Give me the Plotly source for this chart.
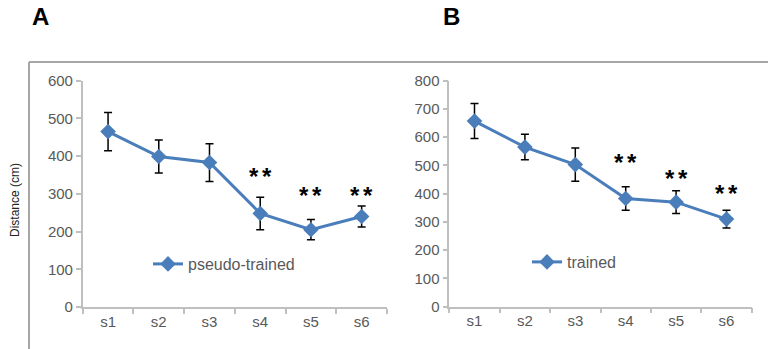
import plotly.graph_objects as go

sessions = ["s1", "s2", "s3", "s4", "s5", "s6"]

pseudo_mean = [465, 399, 383, 248, 205, 240]
pseudo_err = [51, 44, 50, 43, 27, 28]
pseudo_star_y = [None, None, None, 362, 312, 312]

trained_mean = [657, 565, 503, 383, 370, 310]
trained_err = [62, 45, 59, 42, 40, 31]
trained_star_y = [None, None, None, 530, 474, 422]

W, H = 768, 349
BLUE = "#4a7ebb"
AXC = "#bfbfbf"
TXT = "#595959"
FONT = "Liberation Sans"

def px(x):
    return x / W

def py(y):
    return 1 - y / H

fig = go.Figure()

fig.add_trace(go.Scatter(
    x=sessions, y=pseudo_mean, mode="lines+markers", name="pseudo-trained",
    line=dict(color=BLUE, width=3),
    marker=dict(symbol="diamond", size=12, color=BLUE),
    error_y=dict(type="data", array=pseudo_err, color="#000000", thickness=1.5, width=4),
    xaxis="x", yaxis="y", legend="legend",
))
fig.add_trace(go.Scatter(
    x=sessions, y=trained_mean, mode="lines+markers", name="trained",
    line=dict(color=BLUE, width=3),
    marker=dict(symbol="diamond", size=12, color=BLUE),
    error_y=dict(type="data", array=trained_err, color="#000000", thickness=1.5, width=4),
    xaxis="x2", yaxis="y2", legend="legend2",
))

for s, ys, xa, ya in [(sessions, pseudo_star_y, "x", "y"), (sessions, trained_star_y, "x2", "y2")]:
    for cat, v in zip(s, ys):
        if v is None:
            continue
        for dx in (-6.5, 6.5):
            fig.add_annotation(x=cat, y=v, xref=xa, yref=ya, text="<b>*</b>", showarrow=False,
                               xanchor="center", yanchor="middle", xshift=dx, yshift=-6,
                               font=dict(family=FONT, size=24, color="#000000"))

axis_common = dict(
    showgrid=False, zeroline=False, showline=True, linecolor=AXC, linewidth=1.5,
    ticks="outside", ticklen=5, tickcolor=AXC, tickwidth=1.5, automargin=False,
    tickfont=dict(family=FONT, size=15, color=TXT), fixedrange=True,
)

fig.update_layout(
    width=W, height=H, margin=dict(l=0, r=0, t=0, b=0, pad=0, autoexpand=False),
    paper_bgcolor="white", plot_bgcolor="white",
    xaxis=dict(domain=[px(82.7), px(387)], anchor="y", type="category",
               range=[-0.5, 5.5], tickson="boundaries", **axis_common),
    yaxis=dict(domain=[py(307), py(80.7)], anchor="x", range=[0, 600], dtick=100, **axis_common),
    xaxis2=dict(domain=[px(449.3), px(751.7)], anchor="y2", type="category",
                range=[-0.5, 5.5], tickson="boundaries", **axis_common),
    yaxis2=dict(domain=[py(306.7), py(80.7)], anchor="x2", range=[0, 800], dtick=100, **axis_common),
    legend=dict(x=px(148), y=py(264), xanchor="left", yanchor="middle",
                bgcolor="rgba(0,0,0,0)", font=dict(family=FONT, size=16, color=TXT)),
    legend2=dict(x=px(527), y=py(262), xanchor="left", yanchor="middle",
                 bgcolor="rgba(0,0,0,0)", font=dict(family=FONT, size=16, color=TXT)),
    showlegend=True,
)

fig.add_annotation(x=px(15), y=py(200), xref="paper", yref="paper", text="Distance (cm)",
                   xanchor="center", yanchor="middle",
                   textangle=-90, showarrow=False, font=dict(family=FONT, size=12, color="#222222"))
fig.add_annotation(x=px(40), y=py(16), xref="paper", yref="paper", text="<b>A</b>",
                   xanchor="center", yanchor="middle",
                   showarrow=False, font=dict(family=FONT, size=24, color="#000000"))
fig.add_annotation(x=px(451), y=py(16), xref="paper", yref="paper", text="<b>B</b>",
                   xanchor="center", yanchor="middle",
                   showarrow=False, font=dict(family=FONT, size=24, color="#000000"))

fig.add_shape(type="line", xref="paper", yref="paper", x0=px(29), x1=1, y0=py(62), y1=py(62),
              line=dict(color="#a6a6a6", width=2))
fig.add_shape(type="line", xref="paper", yref="paper", x0=px(29), x1=px(29), y0=py(62), y1=0,
              line=dict(color="#a6a6a6", width=2))

fig.write_html("out.html")
